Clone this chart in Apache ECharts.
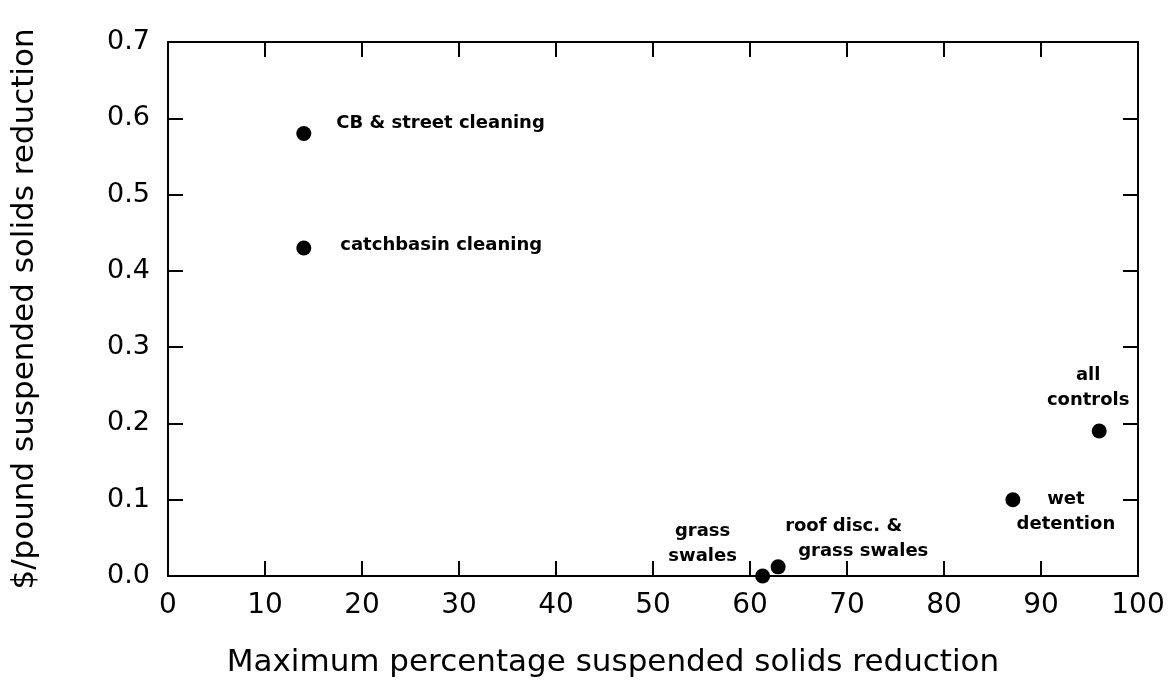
<!DOCTYPE html>
<html><head><meta charset="utf-8">
<script src="https://cdn.jsdelivr.net/npm/echarts@6/dist/echarts.min.js"></script>
<style>html,body{margin:0;padding:0;background:#fff}#c{width:1175px;height:685px}</style>
</head><body><div id="c"></div>
<script>
// Data
const names = ['CB & street cleaning', 'catchbasin cleaning', 'grass swales', 'roof disc. & grass swales', 'wet detention', 'all controls'];
const labelTexts = ['CB & street cleaning', 'catchbasin cleaning', 'grass\nswales', '{a|roof disc. &}\n{b|grass swales}', 'wet\ndetention', 'all\ncontrols'];
const xValues = [14.0, 14.0, 61.3, 62.9, 87.1, 96.0];
const yValues = [0.58, 0.43, 0.0, 0.012, 0.10, 0.19];
const xTicks = [0, 10, 20, 30, 40, 50, 60, 70, 80, 90, 100];
const yTicks = [0.0, 0.1, 0.2, 0.3, 0.4, 0.5, 0.6, 0.7];

// Label layout (style, not data)
const labelLayout = {
  'CB & street cleaning': {position: 'right', distance: 25, offset: [0, -10], align: 'left'},
  'catchbasin cleaning': {position: 'right', distance: 29, offset: [0, -3], align: 'left'},
  'grass swales': {position: 'inside', offset: [-60, -32], align: 'center'},
  'roof disc. & grass swales': {position: 'inside', offset: [7, -28], align: 'left'},
  'wet detention': {position: 'inside', offset: [53, 12], align: 'center'},
  'all controls': {position: 'inside', offset: [-11, -43], align: 'center'}
};

const FONT = 'DejaVu Sans';
const LFS = 18;
const data = names.map((n, i) => {
  const l = labelLayout[n];
  return {
    name: n,
    value: [xValues[i], yValues[i]],
    label: {
      show: true,
      formatter: labelTexts[i],
      position: l.position,
      distance: l.distance,
      offset: l.offset,
      align: l.align,
      verticalAlign: 'middle',
      color: '#000',
      opacity: 1,
      fontFamily: FONT,
      fontSize: LFS,
      fontWeight: 'bold',
      lineHeight: 25,
      rich: {
        a: {fontFamily: FONT, fontSize: LFS, fontWeight: 'bold', color: '#000', lineHeight: 25},
        b: {fontFamily: FONT, fontSize: LFS, fontWeight: 'bold', color: '#000', lineHeight: 25, padding: [0, 0, 0, 13]}
      }
    }
  };
});

const axisLine = {show: true, onZero: false, lineStyle: {color: '#000', width: 2}};
const tick = {show: true, inside: true, length: 15, lineStyle: {color: '#000', width: 2}};

const chart = echarts.init(document.getElementById('c'), null, {renderer: 'canvas'});
chart.setOption({
  backgroundColor: '#fff',
  animation: false,
  grid: {left: 168, right: 37, top: 42, bottom: 109, containLabel: false, outerBoundsMode: 'none'},
  xAxis: [{
    type: 'value', min: xTicks[0], max: xTicks[xTicks.length - 1], interval: 10,
    position: 'bottom',
    axisLine: axisLine, axisTick: tick, splitLine: {show: false},
    axisLabel: {color: '#000', fontFamily: FONT, fontSize: 28, margin: 16},
    name: 'Maximum percentage suspended solids reduction',
    nameLocation: 'middle', nameGap: 71,
    nameTextStyle: {color: '#000', fontFamily: FONT, fontSize: 31, padding: [0, 80, 0, 0]}
  }, {
    type: 'value', min: xTicks[0], max: xTicks[xTicks.length - 1], interval: 10,
    position: 'top',
    axisLine: axisLine, axisTick: tick, splitLine: {show: false},
    axisLabel: {show: false}
  }],
  yAxis: [{
    type: 'value', min: yTicks[0], max: yTicks[yTicks.length - 1], interval: 0.1,
    position: 'left',
    axisLine: axisLine, axisTick: tick, splitLine: {show: false},
    axisLabel: {color: '#000', fontFamily: FONT, fontSize: 27, margin: 18,
      formatter: v => v.toFixed(1)},
    name: '$/pound suspended solids reduction',
    nameLocation: 'middle', nameGap: 128, nameRotate: 90,
    nameTextStyle: {color: '#000', fontFamily: FONT, fontSize: 31}
  }, {
    type: 'value', min: yTicks[0], max: yTicks[yTicks.length - 1], interval: 0.1,
    position: 'right',
    axisLine: axisLine, axisTick: tick, splitLine: {show: false},
    axisLabel: {show: false}
  }],
  series: [{
    type: 'scatter',
    xAxisIndex: 0, yAxisIndex: 0,
    symbol: 'circle', symbolSize: 15,
    itemStyle: {color: '#000', opacity: 1},
    data: data
  }]
});
</script>
</body></html>
